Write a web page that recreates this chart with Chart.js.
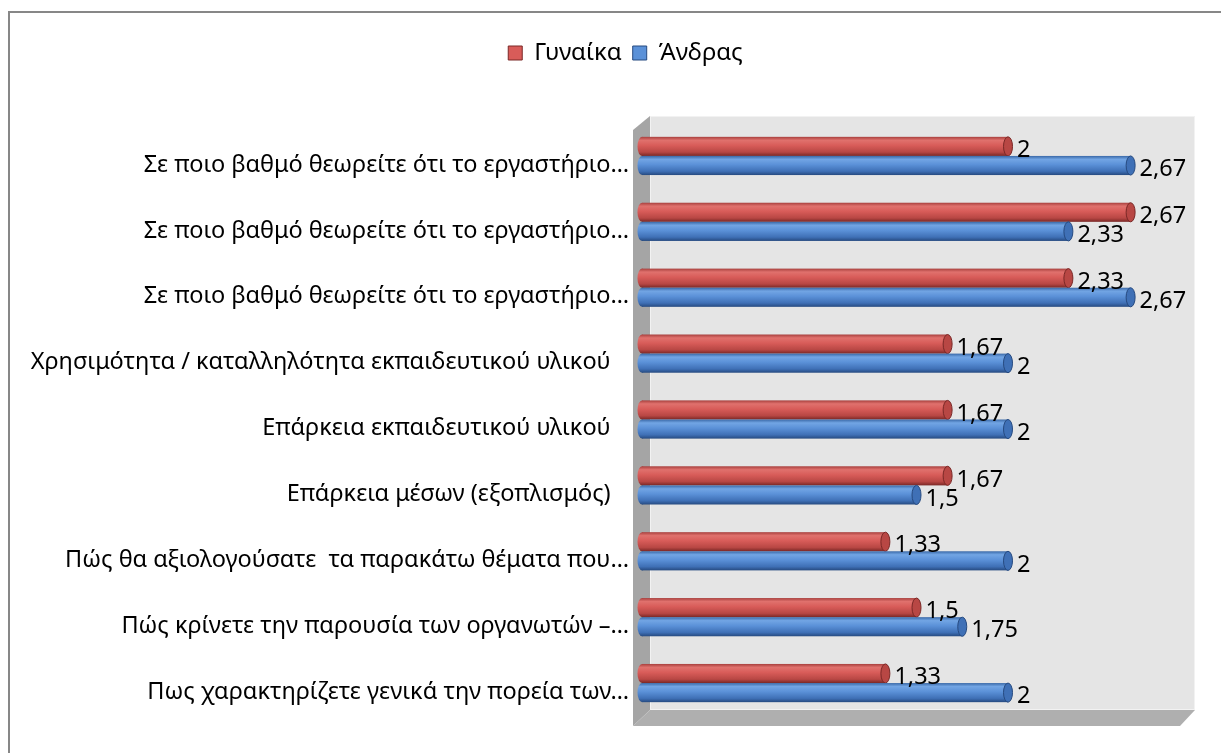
<!DOCTYPE html>
<html>
<head>
<meta charset="utf-8">
<script src="https://cdn.jsdelivr.net/npm/chart.js@4.4.1/dist/chart.umd.min.js"></script>
<style>
  html, body { margin: 0; padding: 0; background: #fff; overflow: hidden; }
  #frame { position: absolute; left: 8px; top: 11px; width: 1300px; height: 800px; border: 2px solid #878787; }
  #wrap { position: absolute; left: 0; top: 0; width: 1221px; height: 753px; }
</style>
</head>
<body>
<div id="frame"></div>
<div id="wrap"><canvas id="chart" width="1221" height="753"></canvas></div>
<script>
// questions (top to bottom)
const categories = [
    'Σε ποιο βαθμό θεωρείτε ότι το εργαστήριο…',
    'Σε ποιο βαθμό θεωρείτε ότι το εργαστήριο…',
    'Σε ποιο βαθμό θεωρείτε ότι το εργαστήριο…',
    'Χρησιμότητα / καταλληλότητα εκπαιδευτικού υλικού   ',
    'Επάρκεια εκπαιδευτικού υλικού   ',
    'Επάρκεια μέσων (εξοπλισμός)   ',
    'Πώς θα αξιολογούσατε  τα παρακάτω θέματα που…',
    'Πώς κρίνετε την παρουσία των οργανωτών –…',
    'Πως χαρακτηρίζετε γενικά την πορεία των…'
];
const women = [2, 2.67, 2.33, 1.67, 1.67, 1.67, 1.33, 1.5, 1.33];
const men = [2.67, 2.33, 2.67, 2, 2, 1.5, 2, 1.75, 2];

const FONT = '"Noto Sans", "DejaVu Sans", sans-serif';
const FONT_SIZE = 23.5;

// colours for the cylinder shading
const shades = {
    red: ['#a8403e', '#e0716d', '#d85c59', '#b84744', '#7a2826'],
    blue: ['#3a69a8', '#72a5e4', '#5b91d8', '#3f70b6', '#264a80']
};

// legend keeps a fixed block height so the plot starts lower,
// and the y labels may run left of the layout padding
const layoutTweaks = {
    id: 'layoutTweaks',
    beforeUpdate(chart) {
        const lg = chart.legend;
        if (lg && !lg._patched) {
            const fit = lg.fit;
            lg.fit = function () {
                fit.call(this);
                this.height = 93;
            };
            lg._patched = true;
        }
    },
    afterLayout(chart) {
        chart.scales.y.left = 0;
    }
};

// 3d walls + floor behind the bars
const wallsPlugin = {
    id: 'walls',
    beforeDatasetsDraw(chart) {
        const { ctx, chartArea: a } = chart;
        ctx.save();
        // back wall
        ctx.fillStyle = '#e5e5e5';
        ctx.fillRect(a.left + 8, a.top - 7, a.right + 4 - (a.left + 8), a.bottom - 6 - (a.top - 7));
        ctx.strokeStyle = '#f2f2f2';
        ctx.lineWidth = 1;
        ctx.strokeRect(a.left + 8.5, a.top - 6.5, a.right + 3 - (a.left + 8), a.bottom - 7 - (a.top - 7));
        // left wall
        ctx.fillStyle = '#a5a5a5';
        ctx.beginPath();
        ctx.moveTo(a.left - 9, a.top + 7);
        ctx.lineTo(a.left + 8, a.top - 7);
        ctx.lineTo(a.left + 8, a.bottom - 6);
        ctx.lineTo(a.left - 9, a.bottom + 10);
        ctx.closePath();
        ctx.fill();
        // floor
        ctx.fillStyle = '#afafaf';
        ctx.beginPath();
        ctx.moveTo(a.left + 8, a.bottom - 6);
        ctx.lineTo(a.right + 4, a.bottom - 6);
        ctx.lineTo(a.right - 11, a.bottom + 10);
        ctx.lineTo(a.left - 9, a.bottom + 10);
        ctx.closePath();
        ctx.fill();
        ctx.restore();
    }
};

function cylinderGradient(ctx, top, h, stops) {
    const g = ctx.createLinearGradient(0, top, 0, top + h);
    g.addColorStop(0, stops[0]);
    g.addColorStop(0.18, stops[1]);
    g.addColorStop(0.45, stops[2]);
    g.addColorStop(0.8, stops[3]);
    g.addColorStop(1, stops[4]);
    return g;
}

// repaint each bar as a cylinder, then put the value next to it
const cylinderPlugin = {
    id: 'cylinder',
    afterDatasetsDraw(chart) {
        const ctx = chart.ctx;
        const rx = 4.5;
        chart.data.datasets.forEach((ds, di) => {
            const meta = chart.getDatasetMeta(di);
            const stops = shades[ds.shade];
            meta.data.forEach(bar => {
                const h = bar.height;
                const top = bar.y - h / 2;
                const g = cylinderGradient(ctx, top, h, stops);
                ctx.save();
                ctx.fillStyle = g;
                ctx.beginPath();
                ctx.ellipse(bar.base, bar.y, rx, h / 2, 0, 0, Math.PI * 2);
                ctx.fill();
                ctx.fillRect(bar.base, top, bar.x - bar.base, h);
                // end cap
                ctx.fillStyle = stops[3];
                ctx.beginPath();
                ctx.ellipse(bar.x, bar.y, rx, h / 2, 0, 0, Math.PI * 2);
                ctx.fill();
                ctx.strokeStyle = stops[4];
                ctx.lineWidth = 1;
                ctx.stroke();
                ctx.restore();
            });
        });
        // value labels
        ctx.save();
        ctx.font = FONT_SIZE + 'px ' + FONT;
        ctx.fillStyle = '#000';
        ctx.textAlign = 'left';
        ctx.textBaseline = 'middle';
        chart.data.datasets.forEach((ds, di) => {
            chart.getDatasetMeta(di).data.forEach((bar, i) => {
                const txt = String(ds.data[i]).replace('.', ',');
                ctx.fillText(txt, bar.x + 9, bar.y + 4);
            });
        });
        ctx.restore();
    }
};

new Chart(document.getElementById('chart'), {
    type: 'bar',
    data: {
        labels: categories,
        datasets: [
            {
                label: 'Γυναίκα',
                data: women,
                shade: 'red',
                backgroundColor: 'rgba(0,0,0,0)',
                borderWidth: 0,
                categoryPercentage: 0.58,
                barPercentage: 1
            },
            {
                label: 'Άνδρας',
                data: men,
                shade: 'blue',
                backgroundColor: 'rgba(0,0,0,0)',
                borderWidth: 0,
                categoryPercentage: 0.58,
                barPercentage: 1
            }
        ]
    },
    options: {
        indexAxis: 'y',
        responsive: false,
        animation: false,
        layout: {
            padding: { top: 30, right: 30, bottom: 37, left: 60 }
        },
        plugins: {
            legend: {
                position: 'top',
                labels: {
                    boxWidth: 14,
                    boxHeight: 14,
                    padding: 11,
                    color: '#000',
                    font: { family: FONT, size: 24 },
                    generateLabels: (chart) => chart.data.datasets.map((ds, i) => ({
                        text: ds.label,
                        fillStyle: shades[ds.shade][2],
                        strokeStyle: shades[ds.shade][4],
                        lineWidth: 1,
                        datasetIndex: i
                    }))
                }
            },
            tooltip: { enabled: false }
        },
        scales: {
            x: {
                display: false,
                min: 0,
                max: 3
            },
            y: {
                grid: { display: false },
                border: { display: false },
                ticks: {
                    color: '#000',
                    font: { family: FONT, size: FONT_SIZE },
                    padding: 5,
                    labelOffset: 9,
                    autoSkip: false
                },
                afterFit: (scale) => { scale.width = 582; }
            }
        }
    },
    plugins: [layoutTweaks, wallsPlugin, cylinderPlugin]
});
</script>
</body>
</html>
